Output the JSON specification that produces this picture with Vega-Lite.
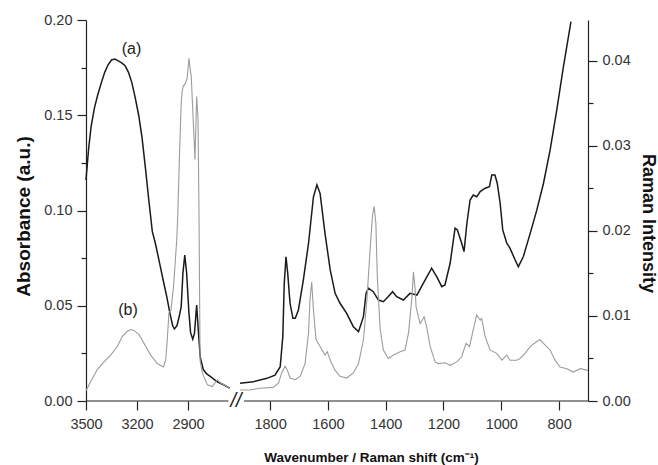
{
  "$schema": "https://vega.github.io/schema/vega-lite/v6.json",
  "width": 502,
  "height": 381,
  "autosize": {"type": "none"},
  "padding": {"left": 86, "top": 20, "right": 70, "bottom": 64},
  "background": "white",
  "config": {
    "view": {"stroke": null},
    "axis": {
      "grid": false,
      "domainColor": "#222",
      "tickColor": "#222",
      "domainWidth": 1.2,
      "tickWidth": 1.2,
      "labelColor": "#333",
      "labelFont": "Liberation Sans",
      "labelFontSize": 14.5,
      "titleFont": "Liberation Sans",
      "titleColor": "#111",
      "titleFontWeight": "bold"
    }
  },
  "datasets": {
    "ir": [
      {"wn": 3500, "a": 0.116, "seg": "L"},
      {"wn": 3485, "a": 0.132, "seg": "L"},
      {"wn": 3470, "a": 0.144, "seg": "L"},
      {"wn": 3450, "a": 0.154, "seg": "L"},
      {"wn": 3430, "a": 0.161, "seg": "L"},
      {"wn": 3410, "a": 0.167, "seg": "L"},
      {"wn": 3390, "a": 0.1725, "seg": "L"},
      {"wn": 3370, "a": 0.1765, "seg": "L"},
      {"wn": 3350, "a": 0.179, "seg": "L"},
      {"wn": 3330, "a": 0.1795, "seg": "L"},
      {"wn": 3310, "a": 0.1785, "seg": "L"},
      {"wn": 3290, "a": 0.1775, "seg": "L"},
      {"wn": 3270, "a": 0.176, "seg": "L"},
      {"wn": 3250, "a": 0.1725, "seg": "L"},
      {"wn": 3230, "a": 0.167, "seg": "L"},
      {"wn": 3210, "a": 0.159, "seg": "L"},
      {"wn": 3190, "a": 0.15, "seg": "L"},
      {"wn": 3170, "a": 0.138, "seg": "L"},
      {"wn": 3150, "a": 0.122, "seg": "L"},
      {"wn": 3130, "a": 0.105, "seg": "L"},
      {"wn": 3110, "a": 0.089, "seg": "L"},
      {"wn": 3090, "a": 0.082, "seg": "L"},
      {"wn": 3065, "a": 0.0715, "seg": "L"},
      {"wn": 3045, "a": 0.063, "seg": "L"},
      {"wn": 3025, "a": 0.0548, "seg": "L"},
      {"wn": 3005, "a": 0.0455, "seg": "L"},
      {"wn": 2990, "a": 0.0395, "seg": "L"},
      {"wn": 2980, "a": 0.0378, "seg": "L"},
      {"wn": 2965, "a": 0.0395, "seg": "L"},
      {"wn": 2950, "a": 0.045, "seg": "L"},
      {"wn": 2940, "a": 0.0495, "seg": "L"},
      {"wn": 2930, "a": 0.067, "seg": "L"},
      {"wn": 2919, "a": 0.0766, "seg": "L"},
      {"wn": 2908, "a": 0.0672, "seg": "L"},
      {"wn": 2895, "a": 0.047, "seg": "L"},
      {"wn": 2885, "a": 0.036, "seg": "L"},
      {"wn": 2872, "a": 0.0324, "seg": "L"},
      {"wn": 2862, "a": 0.0355, "seg": "L"},
      {"wn": 2849, "a": 0.0504, "seg": "L"},
      {"wn": 2840, "a": 0.038, "seg": "L"},
      {"wn": 2828, "a": 0.023, "seg": "L"},
      {"wn": 2810, "a": 0.0165, "seg": "L"},
      {"wn": 2790, "a": 0.0142, "seg": "L"},
      {"wn": 2767, "a": 0.0128, "seg": "L"},
      {"wn": 2728, "a": 0.0101, "seg": "L"},
      {"wn": 2688, "a": 0.0084, "seg": "L"},
      {"wn": 2655, "a": 0.0068, "seg": "L"},
      {"wn": 1904, "a": 0.0093, "seg": "R"},
      {"wn": 1858, "a": 0.0101, "seg": "R"},
      {"wn": 1811, "a": 0.0119, "seg": "R"},
      {"wn": 1783, "a": 0.0136, "seg": "R"},
      {"wn": 1765, "a": 0.018, "seg": "R"},
      {"wn": 1756, "a": 0.0338, "seg": "R"},
      {"wn": 1751, "a": 0.0618, "seg": "R"},
      {"wn": 1745, "a": 0.0757, "seg": "R"},
      {"wn": 1739, "a": 0.067, "seg": "R"},
      {"wn": 1731, "a": 0.0513, "seg": "R"},
      {"wn": 1721, "a": 0.0434, "seg": "R"},
      {"wn": 1713, "a": 0.0434, "seg": "R"},
      {"wn": 1702, "a": 0.0478, "seg": "R"},
      {"wn": 1685, "a": 0.0635, "seg": "R"},
      {"wn": 1667, "a": 0.0828, "seg": "R"},
      {"wn": 1650, "a": 0.1072, "seg": "R"},
      {"wn": 1638, "a": 0.1134, "seg": "R"},
      {"wn": 1627, "a": 0.109, "seg": "R"},
      {"wn": 1610, "a": 0.088, "seg": "R"},
      {"wn": 1592, "a": 0.0688, "seg": "R"},
      {"wn": 1575, "a": 0.0565, "seg": "R"},
      {"wn": 1558, "a": 0.0513, "seg": "R"},
      {"wn": 1535, "a": 0.046, "seg": "R"},
      {"wn": 1512, "a": 0.039, "seg": "R"},
      {"wn": 1494, "a": 0.0364, "seg": "R"},
      {"wn": 1477, "a": 0.0443, "seg": "R"},
      {"wn": 1468, "a": 0.0565, "seg": "R"},
      {"wn": 1460, "a": 0.0592, "seg": "R"},
      {"wn": 1443, "a": 0.0574, "seg": "R"},
      {"wn": 1425, "a": 0.053, "seg": "R"},
      {"wn": 1408, "a": 0.0521, "seg": "R"},
      {"wn": 1391, "a": 0.0548, "seg": "R"},
      {"wn": 1376, "a": 0.0574, "seg": "R"},
      {"wn": 1362, "a": 0.0548, "seg": "R"},
      {"wn": 1339, "a": 0.053, "seg": "R"},
      {"wn": 1316, "a": 0.0565, "seg": "R"},
      {"wn": 1292, "a": 0.0556, "seg": "R"},
      {"wn": 1270, "a": 0.0618, "seg": "R"},
      {"wn": 1241, "a": 0.0697, "seg": "R"},
      {"wn": 1223, "a": 0.0652, "seg": "R"},
      {"wn": 1206, "a": 0.06, "seg": "R"},
      {"wn": 1195, "a": 0.0609, "seg": "R"},
      {"wn": 1177, "a": 0.0723, "seg": "R"},
      {"wn": 1160, "a": 0.0907, "seg": "R"},
      {"wn": 1152, "a": 0.0898, "seg": "R"},
      {"wn": 1137, "a": 0.0828, "seg": "R"},
      {"wn": 1129, "a": 0.0784, "seg": "R"},
      {"wn": 1119, "a": 0.0933, "seg": "R"},
      {"wn": 1108, "a": 0.1055, "seg": "R"},
      {"wn": 1097, "a": 0.1081, "seg": "R"},
      {"wn": 1085, "a": 0.1072, "seg": "R"},
      {"wn": 1073, "a": 0.1099, "seg": "R"},
      {"wn": 1056, "a": 0.1117, "seg": "R"},
      {"wn": 1041, "a": 0.1125, "seg": "R"},
      {"wn": 1033, "a": 0.1186, "seg": "R"},
      {"wn": 1022, "a": 0.1186, "seg": "R"},
      {"wn": 1014, "a": 0.1143, "seg": "R"},
      {"wn": 1004, "a": 0.1038, "seg": "R"},
      {"wn": 995, "a": 0.0898, "seg": "R"},
      {"wn": 981, "a": 0.0828, "seg": "R"},
      {"wn": 970, "a": 0.0802, "seg": "R"},
      {"wn": 952, "a": 0.074, "seg": "R"},
      {"wn": 941, "a": 0.0705, "seg": "R"},
      {"wn": 924, "a": 0.0757, "seg": "R"},
      {"wn": 900, "a": 0.088, "seg": "R"},
      {"wn": 877, "a": 0.1003, "seg": "R"},
      {"wn": 854, "a": 0.1143, "seg": "R"},
      {"wn": 831, "a": 0.1318, "seg": "R"},
      {"wn": 808, "a": 0.1528, "seg": "R"},
      {"wn": 785, "a": 0.1755, "seg": "R"},
      {"wn": 759, "a": 0.1991, "seg": "R"}
    ],
    "raman": [
      {"wn": 3500, "r": 0.0012, "seg": "L"},
      {"wn": 3472, "r": 0.0023, "seg": "L"},
      {"wn": 3434, "r": 0.0037, "seg": "L"},
      {"wn": 3394, "r": 0.0046, "seg": "L"},
      {"wn": 3355, "r": 0.0054, "seg": "L"},
      {"wn": 3316, "r": 0.0064, "seg": "L"},
      {"wn": 3286, "r": 0.0076, "seg": "L"},
      {"wn": 3257, "r": 0.0082, "seg": "L"},
      {"wn": 3235, "r": 0.0084, "seg": "L"},
      {"wn": 3218, "r": 0.0083, "seg": "L"},
      {"wn": 3188, "r": 0.0078, "seg": "L"},
      {"wn": 3159, "r": 0.0068, "seg": "L"},
      {"wn": 3119, "r": 0.0054, "seg": "L"},
      {"wn": 3081, "r": 0.0044, "seg": "L"},
      {"wn": 3045, "r": 0.004, "seg": "L"},
      {"wn": 3031, "r": 0.0048, "seg": "L"},
      {"wn": 3022, "r": 0.0072, "seg": "L"},
      {"wn": 3012, "r": 0.0104, "seg": "L"},
      {"wn": 3000, "r": 0.0107, "seg": "L"},
      {"wn": 2985, "r": 0.0135, "seg": "L"},
      {"wn": 2966, "r": 0.019, "seg": "L"},
      {"wn": 2960, "r": 0.022, "seg": "L"},
      {"wn": 2950, "r": 0.029, "seg": "L"},
      {"wn": 2940, "r": 0.035, "seg": "L"},
      {"wn": 2934, "r": 0.0365, "seg": "L"},
      {"wn": 2928, "r": 0.037, "seg": "L"},
      {"wn": 2914, "r": 0.0374, "seg": "L"},
      {"wn": 2905, "r": 0.038, "seg": "L"},
      {"wn": 2894, "r": 0.0403, "seg": "L"},
      {"wn": 2887, "r": 0.039, "seg": "L"},
      {"wn": 2881, "r": 0.0382, "seg": "L"},
      {"wn": 2865, "r": 0.0311, "seg": "L"},
      {"wn": 2859, "r": 0.0284, "seg": "L"},
      {"wn": 2849, "r": 0.0358, "seg": "L"},
      {"wn": 2841, "r": 0.0331, "seg": "L"},
      {"wn": 2835, "r": 0.0213, "seg": "L"},
      {"wn": 2829, "r": 0.0048, "seg": "L"},
      {"wn": 2816, "r": 0.0033, "seg": "L"},
      {"wn": 2786, "r": 0.0019, "seg": "L"},
      {"wn": 2757, "r": 0.0017, "seg": "L"},
      {"wn": 2728, "r": 0.0025, "seg": "L"},
      {"wn": 2708, "r": 0.0021, "seg": "L"},
      {"wn": 2688, "r": 0.0019, "seg": "L"},
      {"wn": 2655, "r": 0.0015, "seg": "L"},
      {"wn": 1904, "r": 0.0013, "seg": "R"},
      {"wn": 1869, "r": 0.0013, "seg": "R"},
      {"wn": 1835, "r": 0.0015, "seg": "R"},
      {"wn": 1789, "r": 0.0016, "seg": "R"},
      {"wn": 1771, "r": 0.0021, "seg": "R"},
      {"wn": 1760, "r": 0.0033, "seg": "R"},
      {"wn": 1748, "r": 0.0041, "seg": "R"},
      {"wn": 1740, "r": 0.0036, "seg": "R"},
      {"wn": 1731, "r": 0.0027, "seg": "R"},
      {"wn": 1714, "r": 0.0025, "seg": "R"},
      {"wn": 1696, "r": 0.0029, "seg": "R"},
      {"wn": 1679, "r": 0.0044, "seg": "R"},
      {"wn": 1667, "r": 0.008, "seg": "R"},
      {"wn": 1662, "r": 0.0119, "seg": "R"},
      {"wn": 1656, "r": 0.014, "seg": "R"},
      {"wn": 1650, "r": 0.0107, "seg": "R"},
      {"wn": 1641, "r": 0.0072, "seg": "R"},
      {"wn": 1627, "r": 0.0064, "seg": "R"},
      {"wn": 1610, "r": 0.0054, "seg": "R"},
      {"wn": 1602, "r": 0.0058, "seg": "R"},
      {"wn": 1592, "r": 0.0048, "seg": "R"},
      {"wn": 1575, "r": 0.0036, "seg": "R"},
      {"wn": 1558, "r": 0.0029, "seg": "R"},
      {"wn": 1535, "r": 0.0027, "seg": "R"},
      {"wn": 1512, "r": 0.0033, "seg": "R"},
      {"wn": 1494, "r": 0.0044, "seg": "R"},
      {"wn": 1477, "r": 0.0072, "seg": "R"},
      {"wn": 1465, "r": 0.0119, "seg": "R"},
      {"wn": 1454, "r": 0.0178, "seg": "R"},
      {"wn": 1446, "r": 0.0217, "seg": "R"},
      {"wn": 1440, "r": 0.0229, "seg": "R"},
      {"wn": 1434, "r": 0.0209, "seg": "R"},
      {"wn": 1429, "r": 0.0146, "seg": "R"},
      {"wn": 1419, "r": 0.0084, "seg": "R"},
      {"wn": 1408, "r": 0.006, "seg": "R"},
      {"wn": 1391, "r": 0.005, "seg": "R"},
      {"wn": 1373, "r": 0.0054, "seg": "R"},
      {"wn": 1350, "r": 0.0058, "seg": "R"},
      {"wn": 1333, "r": 0.006, "seg": "R"},
      {"wn": 1321, "r": 0.008, "seg": "R"},
      {"wn": 1309, "r": 0.0123, "seg": "R"},
      {"wn": 1304, "r": 0.0152, "seg": "R"},
      {"wn": 1298, "r": 0.0131, "seg": "R"},
      {"wn": 1295, "r": 0.0111, "seg": "R"},
      {"wn": 1281, "r": 0.0091, "seg": "R"},
      {"wn": 1267, "r": 0.0099, "seg": "R"},
      {"wn": 1258, "r": 0.0087, "seg": "R"},
      {"wn": 1246, "r": 0.0064, "seg": "R"},
      {"wn": 1229, "r": 0.0046, "seg": "R"},
      {"wn": 1218, "r": 0.0044, "seg": "R"},
      {"wn": 1194, "r": 0.0045, "seg": "R"},
      {"wn": 1177, "r": 0.0042, "seg": "R"},
      {"wn": 1154, "r": 0.0046, "seg": "R"},
      {"wn": 1137, "r": 0.0052, "seg": "R"},
      {"wn": 1122, "r": 0.0068, "seg": "R"},
      {"wn": 1110, "r": 0.0064, "seg": "R"},
      {"wn": 1097, "r": 0.0084, "seg": "R"},
      {"wn": 1085, "r": 0.0101, "seg": "R"},
      {"wn": 1073, "r": 0.0095, "seg": "R"},
      {"wn": 1068, "r": 0.0097, "seg": "R"},
      {"wn": 1056, "r": 0.0076, "seg": "R"},
      {"wn": 1039, "r": 0.006, "seg": "R"},
      {"wn": 1016, "r": 0.0056, "seg": "R"},
      {"wn": 998, "r": 0.0048, "seg": "R"},
      {"wn": 981, "r": 0.0054, "seg": "R"},
      {"wn": 970, "r": 0.0048, "seg": "R"},
      {"wn": 958, "r": 0.0048, "seg": "R"},
      {"wn": 946, "r": 0.0048, "seg": "R"},
      {"wn": 935, "r": 0.005, "seg": "R"},
      {"wn": 918, "r": 0.0056, "seg": "R"},
      {"wn": 900, "r": 0.0064, "seg": "R"},
      {"wn": 877, "r": 0.007, "seg": "R"},
      {"wn": 866, "r": 0.0072, "seg": "R"},
      {"wn": 849, "r": 0.0066, "seg": "R"},
      {"wn": 831, "r": 0.006, "seg": "R"},
      {"wn": 814, "r": 0.0048, "seg": "R"},
      {"wn": 797, "r": 0.004, "seg": "R"},
      {"wn": 773, "r": 0.0038, "seg": "R"},
      {"wn": 751, "r": 0.0034, "seg": "R"},
      {"wn": 727, "r": 0.0038, "seg": "R"},
      {"wn": 700, "r": 0.0036, "seg": "R"}
    ],
    "axisline": [
      {"wn": 3500, "wn2": 2662, "a": 0},
      {"wn": 1890, "wn2": 700, "a": 0}
    ],
    "labels": [
      {"wn": 3232, "a": 0.1848, "label": "(a)"},
      {"wn": 3253, "a": 0.0478, "label": "(b)"}
    ],
    "brk": [
      {"wn": 2130, "a": 0, "label": "//"}
    ]
  },
  "layer": [
    {
      "data": {"name": "ir"},
      "mark": {"type": "line", "color": "#1a1a1a", "strokeWidth": 1.5},
      "encoding": {
        "x": {
          "field": "wn", "type": "quantitative",
          "scale": {"domain": [3500, 2650, 1910, 700], "range": [0, 144.5, 152.3, 502], "nice": false, "zero": false},
          "axis": {
            "orient": "bottom",
            "values": [3500, 3350, 3200, 3050, 2900, 2750, 1800, 1700, 1600, 1500, 1400, 1300, 1200, 1100, 1000, 900, 800, 700],
            "format": "d",
            "domain": false,
            "labelExpr": "indexof([3500, 3200, 2900, 1800, 1600, 1400, 1200, 1000, 800], datum.value) >= 0 ? datum.label : ''",
            "tickSize": {"condition": {"test": "indexof([3500, 3200, 2900, 1800, 1600, 1400, 1200, 1000, 800], datum.value) >= 0", "value": 9}, "value": 5},
            "labelPadding": 7,
            "labelFlush": false,
            "labelOverlap": false,
            "title": "Wavenumber / Raman shift (cm⁻¹)",
            "titleFont": "Liberation Sans",
            "titleFontSize": 13.5,
            "titleX": 285,
            "titleY": 56,
            "titleBaseline": "middle",
            "titleAlign": "center"
          }
        },
        "y": {
          "field": "a", "type": "quantitative",
          "scale": {"domain": [0, 0.2], "nice": false, "zero": true},
          "axis": {
            "orient": "left",
            "values": [0, 0.025, 0.05, 0.075, 0.1, 0.125, 0.15, 0.175, 0.2],
            "format": ".2f",
            "labelExpr": "round(datum.value * 1000) % 50 == 0 ? datum.label : ''",
            "tickSize": {"condition": {"test": "round(datum.value * 1000) % 50 == 0", "value": 9}, "value": 5},
            "labelPadding": 5,
            "title": "Absorbance (a.u.)",
            "titleFontSize": 19,
            "titleAngle": -90,
            "titleX": -53,
            "titleY": 196,
            "titleBaseline": "bottom",
            "titleAlign": "center"
          }
        },
        "detail": {"field": "seg"}
      }
    },
    {
      "data": {"name": "axisline"},
      "mark": {"type": "rule", "color": "#222", "strokeWidth": 1.2},
      "encoding": {
        "x": {"field": "wn", "type": "quantitative", "scale": {"domain": [3500, 2650, 1910, 700], "range": [0, 144.5, 152.3, 502], "nice": false, "zero": false}},
        "x2": {"field": "wn2"},
        "y": {"field": "a", "type": "quantitative", "scale": {"domain": [0, 0.2], "nice": false, "zero": true}, "axis": null}
      }
    },
    {
      "data": {"name": "labels"},
      "mark": {"type": "text", "font": "Liberation Sans", "fontSize": 16, "color": "#222", "align": "center", "baseline": "middle"},
      "encoding": {
        "x": {"field": "wn", "type": "quantitative", "scale": {"domain": [3500, 2650, 1910, 700], "range": [0, 144.5, 152.3, 502], "nice": false, "zero": false}},
        "y": {"field": "a", "type": "quantitative", "scale": {"domain": [0, 0.2], "nice": false, "zero": true}, "axis": null},
        "text": {"field": "label"}
      }
    },
    {
      "data": {"name": "brk"},
      "mark": {"type": "text", "font": "Liberation Sans", "fontSize": 20, "fontStyle": "italic", "color": "#222", "align": "center", "baseline": "middle"},
      "encoding": {
        "x": {"field": "wn", "type": "quantitative", "scale": {"domain": [3500, 2650, 1910, 700], "range": [0, 144.5, 152.3, 502], "nice": false, "zero": false}},
        "y": {"field": "a", "type": "quantitative", "scale": {"domain": [0, 0.2], "nice": false, "zero": true}, "axis": null},
        "text": {"field": "label"}
      }
    },
    {
      "data": {"name": "raman"},
      "mark": {"type": "line", "color": "#9c9c9c", "strokeWidth": 1.1},
      "encoding": {
        "x": {"field": "wn", "type": "quantitative", "scale": {"domain": [3500, 2650, 1910, 700], "range": [0, 144.5, 152.3, 502], "nice": false, "zero": false}},
        "y": {
          "field": "r", "type": "quantitative",
          "scale": {"domain": [0, 0.0448], "nice": false, "zero": true},
          "axis": {
            "orient": "right",
            "values": [0, 0.005, 0.01, 0.015, 0.02, 0.025, 0.03, 0.035, 0.04],
            "format": ".2f",
            "labelExpr": "round(datum.value * 1000) % 10 == 0 ? datum.label : ''",
            "tickSize": {"condition": {"test": "round(datum.value * 1000) % 10 == 0", "value": 9}, "value": 5},
            "labelPadding": 5,
            "title": "Raman Intensity",
            "titleFontSize": 18,
            "titleAngle": 90,
            "titleX": 50,
            "titleY": 203,
            "titleBaseline": "bottom",
            "titleAlign": "center"
          }
        },
        "detail": {"field": "seg"}
      }
    }
  ],
  "resolve": {"scale": {"y": "independent"}}
}
